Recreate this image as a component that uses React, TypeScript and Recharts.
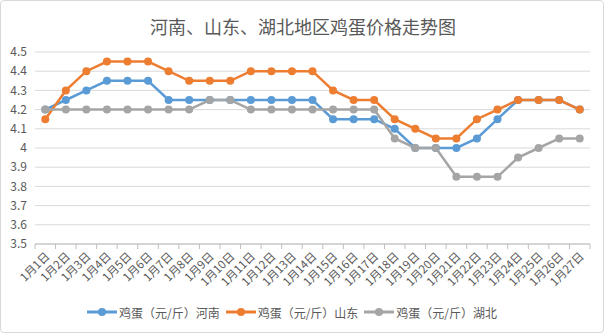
import React from 'react'
import { LineChart, Line, XAxis, YAxis, CartesianGrid, Legend } from 'recharts'

const days = [
  '1月1日', '1月2日', '1月3日', '1月4日', '1月5日', '1月6日', '1月7日', '1月8日', '1月9日',
  '1月10日', '1月11日', '1月12日', '1月13日', '1月14日', '1月15日', '1月16日', '1月17日', '1月18日',
  '1月19日', '1月20日', '1月21日', '1月22日', '1月23日', '1月24日', '1月25日', '1月26日', '1月27日',
]

const henan = [4.2, 4.25, 4.3, 4.35, 4.35, 4.35, 4.25, 4.25, 4.25, 4.25, 4.25, 4.25, 4.25, 4.25,
  4.15, 4.15, 4.15, 4.1, 4.0, 4.0, 4.0, 4.05, 4.15, 4.25, 4.25, 4.25, 4.2]
const shandong = [4.15, 4.3, 4.4, 4.45, 4.45, 4.45, 4.4, 4.35, 4.35, 4.35, 4.4, 4.4, 4.4, 4.4,
  4.3, 4.25, 4.25, 4.15, 4.1, 4.05, 4.05, 4.15, 4.2, 4.25, 4.25, 4.25, 4.2]
const hubei = [4.2, 4.2, 4.2, 4.2, 4.2, 4.2, 4.2, 4.2, 4.25, 4.25, 4.2, 4.2, 4.2, 4.2,
  4.2, 4.2, 4.2, 4.05, 4.0, 4.0, 3.85, 3.85, 3.85, 3.95, 4.0, 4.05, 4.05]

const yTicks = [3.5, 3.6, 3.7, 3.8, 3.9, 4, 4.1, 4.2, 4.3, 4.4, 4.5]

const seriesNames = ['鸡蛋（元/斤）河南', '鸡蛋（元/斤）山东', '鸡蛋（元/斤）湖北']
const colors = ['#5B9BD5', '#ED7D31', '#A5A5A5']

const data = days.map((d, i) => ({ day: d, henan: henan[i], shandong: shandong[i], hubei: hubei[i] }))

const FONT = '"Noto Sans CJK SC", "Noto Sans", sans-serif'
const W = 604
const H = 333
const LEFT = 35
const RIGHT = 14
const band = (W - LEFT - RIGHT) / days.length

// x 轴刻度：标签斜放，刻度线画在类别边界上
function DayTick(props: any) {
  const { x, y, payload, index } = props
  const tx = x + 5
  const ty = y + 13
  return (
    <g>
      <line x1={x - band / 2} y1={y} x2={x - band / 2} y2={y + 5} stroke="#BFBFBF" />
      {index === days.length - 1 && (
        <line x1={x + band / 2} y1={y} x2={x + band / 2} y2={y + 5} stroke="#BFBFBF" />
      )}
      <text
        x={tx}
        y={ty}
        textAnchor="end"
        fontSize={11.5}
        fill="#595959"
        fontFamily={FONT}
        transform={`rotate(-45 ${tx} ${ty})`}
      >
        {payload.value}
      </text>
    </g>
  )
}

function LegendBox() {
  return (
    <div style={{ display: 'flex', justifyContent: 'center', alignItems: 'center', height: 24, fontFamily: FONT, fontSize: 12, color: '#595959' }}>
      {seriesNames.map((name, i) => (
        <div key={name} style={{ display: 'flex', alignItems: 'center', marginRight: 6 }}>
          <svg width={30} height={10}>
            <line x1={0} y1={5} x2={30} y2={5} stroke={colors[i]} strokeWidth={3} />
            <circle cx={15} cy={5} r={4} fill={colors[i]} />
          </svg>
          <span style={{ marginLeft: 2 }}>{name}</span>
        </div>
      ))}
    </div>
  )
}

export default function App() {
  const keys = ['henan', 'shandong', 'hubei']
  return (
    <div style={{ position: 'absolute', left: 0, top: 0, width: W, height: H, background: '#fff', border: '1px solid #D9D9D9', borderRadius: 4, boxSizing: 'border-box', overflow: 'hidden' }}>
      <div style={{ position: 'absolute', top: 12, left: 0, width: W, textAlign: 'center', fontFamily: FONT, fontSize: 18, color: '#595959' }}>
        河南、山东、湖北地区鸡蛋价格走势图
      </div>
      <LineChart width={W} height={H} data={data} margin={{ top: 51, right: RIGHT, bottom: 10, left: 0 }} style={{ position: 'absolute', left: -1, top: 0 }}>
        <CartesianGrid vertical={false} stroke="#D9D9D9" />
        <XAxis
          dataKey="day"
          interval={0}
          height={56}
          tickSize={0}
          tickMargin={0}
          padding={{ left: band / 2, right: band / 2 }}
          tick={<DayTick />}
          axisLine={{ stroke: '#BFBFBF' }}
          tickLine={false}
        />
        <YAxis
          width={LEFT}
          domain={[3.5, 4.5]}
          ticks={yTicks}
          interval={0}
          axisLine={false}
          tickLine={false}
          tick={{ fontSize: 12, fill: '#595959', fontFamily: FONT }}
        />
        <Legend verticalAlign="bottom" content={<LegendBox />} />
        {keys.map((k, i) => (
          <Line
            key={k}
            dataKey={k}
            name={seriesNames[i]}
            stroke={colors[i]}
            strokeWidth={2.5}
            dot={{ r: 4, fill: colors[i], stroke: colors[i], strokeWidth: 0 }}
            isAnimationActive={false}
          />
        ))}
      </LineChart>
    </div>
  )
}
